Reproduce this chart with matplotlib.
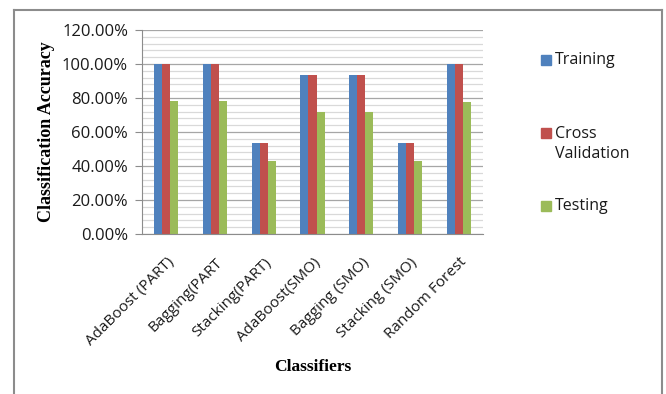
import numpy as np
import matplotlib
matplotlib.use('Agg')
import matplotlib.pyplot as plt
from matplotlib.patches import Rectangle
from matplotlib.lines import Line2D
from matplotlib.ticker import MultipleLocator, FuncFormatter

classifiers = ['AdaBoost (PART)', 'Bagging(PART', 'Stacking(PART)', 'AdaBoost(SMO)',
               'Bagging (SMO)', 'Stacking (SMO)', 'Random Forest']
training = [100.0, 100.0, 53.5, 93.5, 93.5, 53.5, 100.0]
cross_validation = [100.0, 100.0, 53.5, 93.5, 93.5, 53.5, 100.0]
testing = [78.0, 78.5, 42.7, 72.0, 72.0, 42.7, 77.5]
series_names = ['Training', 'Cross\nValidation', 'Testing']
colors = ['#4F81BD', '#C0504D', '#9BBB59']

W, H = 666, 394
fig = plt.figure(figsize=(W / 100, H / 100), dpi=100)
ax = fig.add_axes([142 / W, 1 - 234 / H, (483 - 142) / W, (234 - 30) / H])

x = np.arange(len(classifiers))
bw = 0.166
for i, (vals, c) in enumerate(zip([training, cross_validation, testing], colors)):
    ax.bar(x + (i - 1) * bw, vals, bw, color=c, zorder=3)

ax.set_xlim(-0.5, len(classifiers) - 0.5)
ax.set_ylim(0, 120)
ax.yaxis.set_major_locator(MultipleLocator(20))
ax.yaxis.set_minor_locator(MultipleLocator(4))
ax.yaxis.set_major_formatter(FuncFormatter(lambda v, p: f'{v:.2f}%'))
ax.grid(axis='y', which='major', color='#a6a6a6', lw=0.9, zorder=0)
ax.grid(axis='y', which='minor', color='#d9d9d9', lw=0.9, zorder=0)
ax.set_axisbelow(True)

for s in ['top', 'right']:
    ax.spines[s].set_visible(False)
for s in ['left', 'bottom']:
    ax.spines[s].set_color('#8c8c8c')
    ax.spines[s].set_zorder(4)

ax.tick_params(axis='y', which='major', length=5, color='#8c8c8c', labelsize=12, pad=5)
ax.tick_params(axis='y', which='minor', length=0)
ax.tick_params(axis='x', length=0, pad=15)
ax.set_xticks(x)
ax.set_xticklabels(classifiers, rotation=45, ha='right', rotation_mode='anchor',
                   fontsize=11)
for lbl in ax.get_xticklabels() + ax.get_yticklabels():
    lbl.set_family('Open Sans')
    lbl.set_color('#1a1a1a')

ax.set_ylabel('Classification Accuracy', family='Liberation Serif', weight='bold',
              fontsize=13, labelpad=5)
fig.text(313 / W, 1 - 367 / H, 'Classifiers', family='Liberation Serif',
         weight='bold', fontsize=12.5, ha='center', va='center')

# legend drawn by hand so the entries spread down the right side
legend_y = [60, 133, 206]
text_y = [60, 144, 206]
for name, c, yy, ty in zip(series_names, colors, legend_y, text_y):
    fig.patches.append(Rectangle((541 / W, 1 - (yy + 5) / H), 10 / W, 10 / H,
                                 color=c, transform=fig.transFigure))
    fig.text(555 / W, 1 - ty / H, name, family='Open Sans', fontsize=11.5,
             color='#1a1a1a', va='center', linespacing=1.3)

# outer chart frame
for xs, ys in [([14, 14], [10, 394]), ([14, 662], [10, 10]), ([662, 662], [10, 394])]:
    fig.lines.append(Line2D([v / W for v in xs], [1 - v / H for v in ys],
                            color='#8c8c8c', lw=1.5, transform=fig.transFigure))

fig.savefig('out.png', dpi=100)
